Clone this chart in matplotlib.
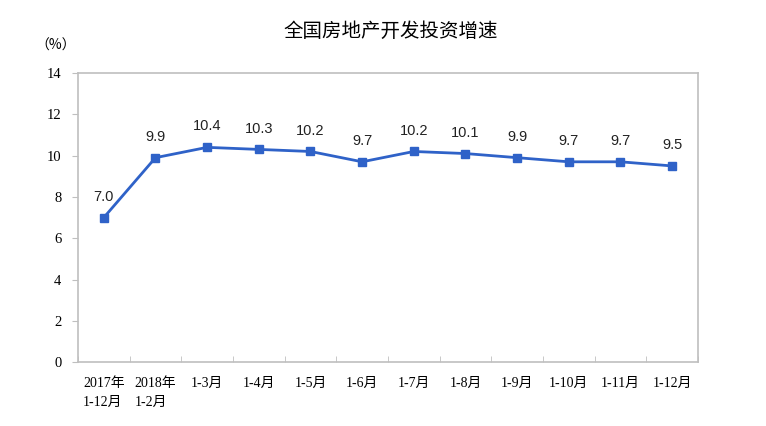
import matplotlib.pyplot as plt
import numpy as np

plt.rcParams['font.family'] = ['Liberation Serif', 'Noto Sans CJK SC', 'DejaVu Sans']

categories = ["2017年\n1-12月", "2018年\n1-2月", "1-3月", "1-4月", "1-5月", "1-6月",
              "1-7月", "1-8月", "1-9月", "1-10月", "1-11月", "1-12月"]
growth = [7.0, 9.9, 10.4, 10.3, 10.2, 9.7, 10.2, 10.1, 9.9, 9.7, 9.7, 9.5]

line_color = '#2F62C8'
grey = '#BFBFBF'

fig = plt.figure(figsize=(7.66, 4.26), dpi=100)
ax = fig.add_axes([0.1018, 0.150, 0.8094, 0.6786])

x = np.arange(len(categories))
ax.plot(x, growth, color=line_color, lw=2, marker='s', ms=6, zorder=3)

for xi, v in zip(x, growth):
    ax.annotate(f"{v:.1f}", (xi, v), xytext=(0, 10), textcoords='offset points',
                ha='center', va='bottom', fontsize=10.5, family='Liberation Sans',
                color='#222222')

ax.set_xlim(-0.5, len(categories) - 0.5)
ax.set_ylim(0, 14)
ax.set_yticks(range(0, 15, 2))
ax.set_xticks(x)
ax.set_xticklabels(categories, fontsize=10, linespacing=1.6)
ax.set_xticks(np.arange(-0.5, len(categories), 1), minor=True)
ax.tick_params(axis='x', which='major', length=0, pad=11)
ax.tick_params(axis='x', which='minor', length=4, color=grey, direction='in')
ax.tick_params(axis='y', length=4, color=grey, labelsize=10.5, pad=8)
for lbl in ax.get_xticklabels():
    lbl.set_horizontalalignment('center')
    lbl.set_multialignment('left')

for sp in ax.spines.values():
    sp.set_color(grey)
    sp.set_linewidth(1.2)

fig.text(0.51, 0.927, "全国房地产开发投资增速", ha='center', va='center', fontsize=14,
         family=['Noto Sans CJK SC'])
fig.text(0.073, 0.893, "（%）", ha='center', va='center', fontsize=10,
         family=['Noto Sans CJK SC'])

fig.savefig('out.png', dpi=100)
